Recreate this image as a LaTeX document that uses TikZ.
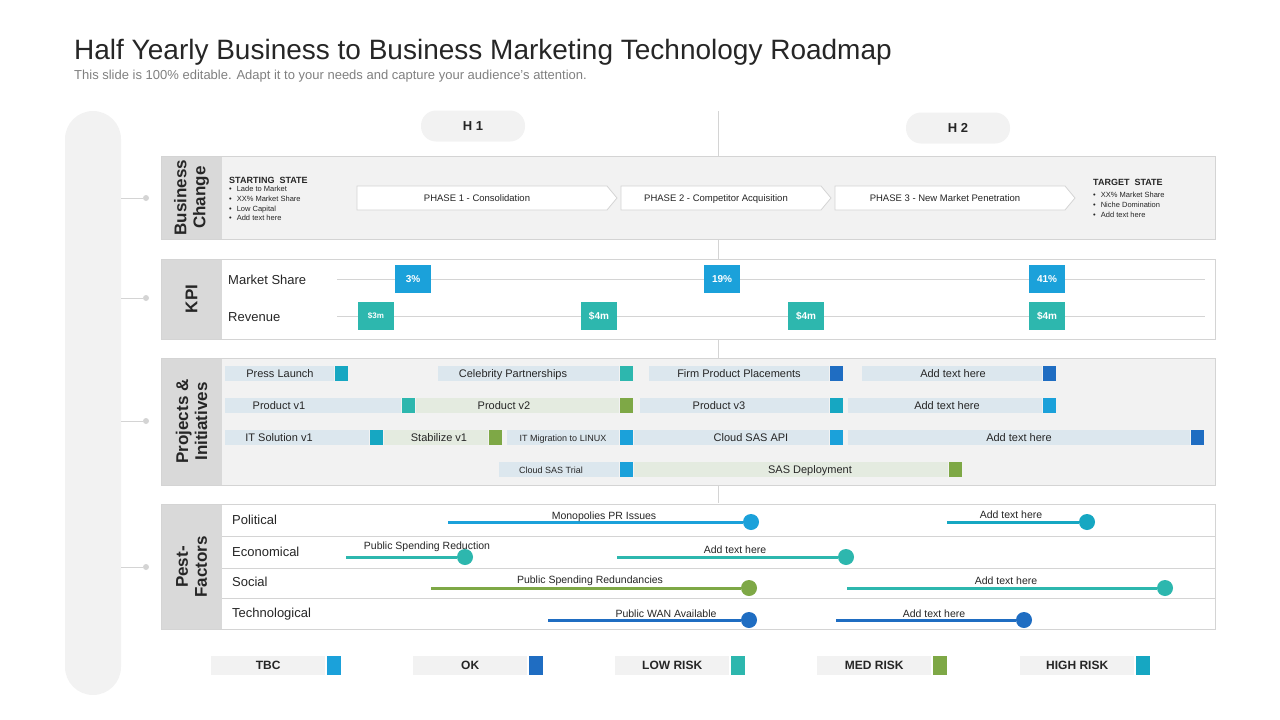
\documentclass[tikz,border=0pt]{standalone}
\usepackage{fontspec}
\setmainfont{Liberation Sans}
\usetikzlibrary{positioning}

\definecolor{txt}{HTML}{262626}
\definecolor{subtxt}{HTML}{7F7F7F}
\definecolor{panel}{HTML}{F2F2F2}
\definecolor{labcol}{HTML}{D9D9D9}
\definecolor{rule}{HTML}{D4D4D4}
\definecolor{barblue}{HTML}{DCE7EE}
\definecolor{bargreen}{HTML}{E4EBE0}
\definecolor{tbc}{HTML}{1BA1DA}
\definecolor{okc}{HTML}{1F6DC2}
\definecolor{lowc}{HTML}{2DB7AE}
\definecolor{medc}{HTML}{7EA846}
\definecolor{highc}{HTML}{16A7C2}

\newcommand{\fs}[2]{\fontsize{#1}{#2}\selectfont}

\tikzset{
  every node/.style={text=txt},
  frame/.style={draw=rule, line width=1pt},
  rowlab/.style={rotate=90, align=center, inner sep=0pt, font=\fs{17}{19}\bfseries},
  pill/.style={fill=panel, rounded corners=15pt, minimum width=104pt, minimum height=31pt, font=\fs{13}{15}\bfseries},
  smalldot/.style={circle, fill=rule, minimum size=6pt, inner sep=0pt},
  phasebox/.style={draw=rule, fill=white, line width=0.8pt},
  phasetext/.style={anchor=base, inner sep=0pt, font=\fs{9.5}{11}},
  kpibox/.style={minimum width=36pt, minimum height=28pt, inner sep=0pt, text=white, font=\fs{10}{12}\bfseries},
  rowname/.style={anchor=west, inner sep=0pt, font=\fs{13}{15}},
  barbox/.style={minimum height=15pt, inner sep=0pt, anchor=west},
  barmark/.style={minimum width=13pt, minimum height=15pt, inner sep=0pt, anchor=west},
  bartext/.style={anchor=base, inner sep=0pt, font=\fs{11}{13}},
  pdot/.style={circle, minimum size=16pt, inner sep=0pt},
  pline/.style={line width=3pt},
  plabel/.style={anchor=base, inner sep=0pt, font=\fs{10.5}{12}},
  legbox/.style={fill=panel, minimum width=114pt, minimum height=19pt, inner sep=0pt, anchor=west, font=\fs{12}{14}\bfseries},
  legmark/.style={minimum width=14pt, minimum height=19pt, inner sep=0pt, anchor=west},
}

% bar: name, x from, x to, y, fill, marker, text x, text
\newcommand{\pbar}[8]{%
  \node[barbox, fill=#5, minimum width={#3-#2}] (#1) at (#2,#4) {};
  \node[barmark, fill=#6] (#1m) at (#3+1,#4) {};
  \node[bartext] (#1t) at (#7,#4+4) {#8};
}
% pest line: name, x from, x to, y, colour, text, text x, text baseline
\newcommand{\pest}[8]{%
  \coordinate (#1s) at (#2,#4);
  \node[pdot, fill=#5] (#1) at (#3,#4) {};
  \draw[pline, draw=#5] (#1s) -- (#1);
  \node[plabel] (#1t) at (#7,#8) {#6};
}
% phase chevron: name, x from, x tip, text
\newcommand{\phase}[4]{%
  \draw[phasebox] (#2,186) -- (#3-10,186) -- (#3,198) -- (#3-10,210) -- (#2,210) -- cycle;
  \node[phasetext] (#1) at ({(#2+#3)/2-10},201.5) {#4};
}

\begin{document}
\begin{tikzpicture}[x=1pt,y=-1pt]
	\useasboundingbox (0,0) rectangle (1280,720);

	\node[anchor=base west, inner sep=0pt, font=\fs{28}{32}] (title) at (74,59)
		{Half Yearly Business to Business Marketing Technology Roadmap};
	\node[anchor=base west, inner sep=0pt, text=subtxt, font=\fs{13}{15}] (subtitle) at (74,79)
		{This slide is 100\% editable. Adapt it to your needs and capture your audience's attention.};

	\fill[panel, rounded corners=28pt] (65,111) rectangle (121,695);
	\foreach \y [count=\i] in {198,298,421,567}{
		\coordinate (tick\i) at (121,\y);
		\node[smalldot] (tickdot\i) at (146,\y) {};
		\draw[rule, line width=1pt] (tick\i) -- (tickdot\i);
	}

	\node[pill] (HA) at (473,126) {H 1};
	\node[pill] (HB) at (958,128) {H 2};
	\coordinate (midtop) at (718,111);
	\coordinate (midbot) at (718,503);
	\draw[rule, line width=1pt] (midtop) -- (midbot);

	% business change
	\draw[frame, fill=panel] (161,156) rectangle (1215,239);
	\fill[labcol] (161.5,156.5) rectangle (222,238.5);
	\node[rowlab] (BC) at (191.5,197.5) {Business\\Change};
	\node[anchor=base west, inner sep=0pt, font=\fs{9}{11}\bfseries] (SS) at (229,183) {STARTING\ \ STATE};
	\node[anchor=north west, inner sep=0pt, align=left, font=\fs{7.5}{9.7}] (SSL) at (229,186)
		{\textbullet\hspace{5pt}Lade to Market\\\textbullet\hspace{5pt}XX\% Market Share\\
		 \textbullet\hspace{5pt}Low Capital\\\textbullet\hspace{5pt}Add text here};
	\phase{PA}{357}{617}{PHASE 1 - Consolidation}
	\phase{PB}{621}{831}{PHASE 2 - Competitor Acquisition}
	\phase{PC}{835}{1075}{PHASE 3 - New Market Penetration}
	\node[anchor=base west, inner sep=0pt, font=\fs{9}{11}\bfseries] (TS) at (1093,185) {TARGET\ \ STATE};
	\node[anchor=north west, inner sep=0pt, align=left, font=\fs{7.5}{9.7}] (TSL) at (1093,192)
		{\textbullet\hspace{5pt}XX\% Market Share\\\textbullet\hspace{5pt}Niche Domination\\
		 \textbullet\hspace{5pt}Add text here};

	% kpi
	\draw[frame, fill=white] (161,259) rectangle (1215,339);
	\fill[labcol] (161.5,259.5) rectangle (222,338.5);
	\node[rowlab] (KPI) at (191.5,299) {KPI};
	\node[rowname] (MS) at (228,280) {Market Share};
	\node[rowname] (RV) at (228,317) {Revenue};
	\coordinate (msa) at (337,279); \coordinate (msb) at (1205,279);
	\coordinate (rva) at (337,316); \coordinate (rvb) at (1205,316);
	\draw[rule] (msa) -- (msb);
	\draw[rule] (rva) -- (rvb);
	\node[kpibox, fill=tbc] (MSA) at (413,279) {3\%};
	\node[kpibox, fill=tbc] (MSB) at (722,279) {19\%};
	\node[kpibox, fill=tbc] (MSC) at (1047,279) {41\%};
	\node[kpibox, fill=lowc, font=\fs{8}{10}\bfseries] (RVA) at (376,316) {\$3m};
	\node[kpibox, fill=lowc] (RVB) at (599,316) {\$4m};
	\node[kpibox, fill=lowc] (RVC) at (806,316) {\$4m};
	\node[kpibox, fill=lowc] (RVD) at (1047,316) {\$4m};

	% projects
	\draw[frame, fill=panel] (161,358) rectangle (1215,485);
	\fill[labcol] (161.5,358.5) rectangle (222,484.5);
	\node[rowlab] (PI) at (191.5,421.5) {Projects \&\\Initiatives};
	\pbar{pl}{225}{334}{373}{barblue}{highc}{280}{Press Launch}
	\pbar{cp}{438}{619}{373}{barblue}{lowc}{513}{Celebrity Partnerships}
	\pbar{fp}{649}{829}{373}{barblue}{okc}{739}{Firm Product Placements}
	\pbar{ra}{862}{1042}{373}{barblue}{okc}{953}{Add text here}
	\pbar{pva}{225}{401}{405}{barblue}{lowc}{279}{Product v1}
	\pbar{pvb}{416}{619}{405}{bargreen}{medc}{504}{Product v2}
	\pbar{pvc}{640}{829}{405}{barblue}{highc}{719}{Product v3}
	\pbar{rb}{848}{1042}{405}{barblue}{tbc}{947}{Add text here}
	\pbar{its}{225}{369}{437}{barblue}{highc}{279}{IT Solution v1}
	\pbar{stb}{384}{488}{437}{bargreen}{medc}{439}{Stabilize v1}
	\pbar{itm}{507}{619}{437}{barblue}{tbc}{563}{\fs{9}{11}IT Migration\ to LINUX}
	\pbar{csa}{634}{829}{437}{barblue}{tbc}{751}{Cloud SAS API}
	\pbar{rc}{848}{1190}{437}{barblue}{okc}{1019}{Add text here}
	\pbar{cst}{499}{619}{469}{barblue}{tbc}{551}{\fs{9}{11}Cloud SAS Trial}
	\pbar{sas}{634}{948}{469}{bargreen}{medc}{810}{SAS Deployment}

	% pest factors
	\draw[frame, fill=white] (161,504) rectangle (1215,629);
	\fill[labcol] (161.5,504.5) rectangle (222,628.5);
	\node[rowlab] (PF) at (191.5,567) {Pest-\\Factors};
	\foreach \y [count=\i] in {536,568,598}{
		\coordinate (sepa\i) at (222,\y); \coordinate (sepb\i) at (1215,\y);
		\draw[rule, line width=1pt] (sepa\i) -- (sepb\i);
	}
	\node[rowname] (POL) at (232,520) {Political};
	\node[rowname] (ECO) at (232,552) {Economical};
	\node[rowname] (SOC) at (232,582) {Social};
	\node[rowname] (TEC) at (232,614) {Technological};
	\pest{pola}{448}{751}{522}{tbc}{Monopolies PR Issues}{604}{519}
	\pest{polb}{947}{1087}{522}{highc}{Add text here}{1011}{518}
	\pest{ecoa}{346}{465}{557}{lowc}{Public Spending Reduction}{427}{549}
	\pest{ecob}{617}{846}{557}{lowc}{Add text here}{735}{553}
	\pest{soca}{431}{749}{588}{medc}{Public Spending Redundancies}{590}{583}
	\pest{socb}{847}{1165}{588}{lowc}{Add text here}{1006}{584}
	\pest{teca}{548}{749}{620}{okc}{Public WAN Available}{666}{617}
	\pest{tecb}{836}{1024}{620}{okc}{Add text here}{934}{617}

	% legend
	\foreach \x/\t/\c [count=\i] in {211/TBC/tbc,413/OK/okc,615/LOW RISK/lowc,817/MED RISK/medc,1020/HIGH RISK/highc}{
		\node[legbox] (leg\i) at (\x,665.5) {\t};
		\node[legmark, fill=\c, right=1pt of leg\i] (legm\i) {};
	}
\end{tikzpicture}
\end{document}
